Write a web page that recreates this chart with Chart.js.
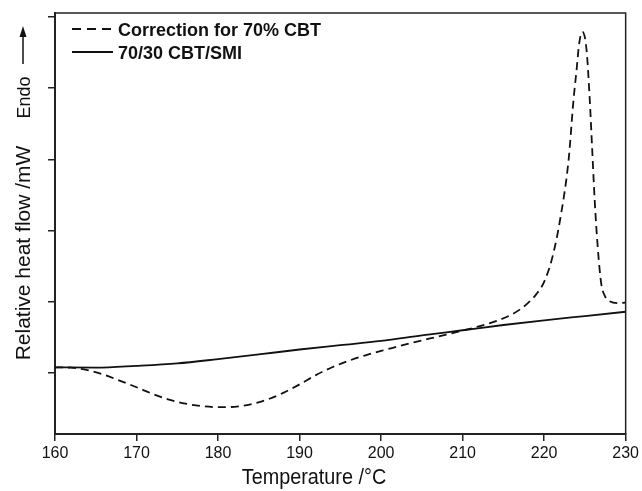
<!DOCTYPE html>
<html>
<head>
<meta charset="utf-8">
<script src="https://cdn.jsdelivr.net/npm/chart.js@4.4.1/dist/chart.umd.min.js"></script>
<style>
  html, body { margin: 0; padding: 0; background: #fff; }
  #wrap { width: 642px; height: 491px; }
</style>
</head>
<body>
<div id="wrap"><canvas id="dsc"></canvas></div>
<script>
// dados (unidades arbitrarias, 1 = um traco do eixo y)
const correcaoT = [160, 162, 164, 166, 168, 170, 172, 174, 176, 178, 180, 182, 184, 186, 188, 190, 192, 194, 196, 198,
  200, 202, 204, 206, 208, 210, 212, 214, 216, 217, 218, 219, 220, 221, 222, 223, 223.6, 224, 224.3, 224.7,
  225.2, 225.6, 225.9, 226.2, 226.6, 227, 227.5, 228, 229, 230];
const correcaoV = [0.08, 0.075, 0.04, -0.025, -0.11, -0.20, -0.295, -0.375, -0.43, -0.465, -0.48, -0.475, -0.44, -0.375, -0.28, -0.16, -0.03, 0.08, 0.17, 0.245,
  0.31, 0.37, 0.43, 0.485, 0.54, 0.595, 0.655, 0.725, 0.82, 0.89, 0.98, 1.10, 1.28, 1.62, 2.18, 2.99, 3.83, 4.28, 4.63, 4.79,
  4.54, 3.83, 3.13, 2.43, 1.73, 1.26, 1.07, 1.01, 0.98, 0.99];

const misturaT = [160, 165, 170, 175, 180, 185, 190, 195, 200, 205, 210, 215, 220, 225, 230];
const misturaV = [0.08, 0.075, 0.10, 0.135, 0.195, 0.26, 0.33, 0.39, 0.45, 0.527, 0.60, 0.674, 0.74, 0.80, 0.86];

const ticksX = [160, 170, 180, 190, 200, 210, 220, 230];
const ticksY = [0, 1, 2, 3, 4, 5];

const legendas = ['Correction for 70% CBT', '70/30 CBT/SMI'];

function juntar(xs, ys) {
  return xs.map((x, i) => ({ x: x, y: ys[i] }));
}

// moldura de cima/direita, legenda e titulos dos eixos
const extras = {
  id: 'extras',
  afterDraw(chart) {
    const ctx = chart.ctx;
    const a = chart.chartArea;
    ctx.save();
    ctx.strokeStyle = '#222';
    ctx.lineWidth = 1.5;
    ctx.beginPath();
    ctx.moveTo(a.left, a.top);
    ctx.lineTo(a.right, a.top);
    ctx.lineTo(a.right, a.bottom);
    ctx.stroke();

    // legenda
    ctx.strokeStyle = '#111';
    ctx.lineWidth = 2;
    ctx.setLineDash([9, 6]);
    ctx.beginPath();
    ctx.moveTo(72, 29);
    ctx.lineTo(113, 29);
    ctx.stroke();
    ctx.setLineDash([]);
    ctx.beginPath();
    ctx.moveTo(72, 52);
    ctx.lineTo(113, 52);
    ctx.stroke();
    ctx.fillStyle = '#111';
    ctx.font = 'bold 18px "Liberation Sans", Arial, sans-serif';
    ctx.textBaseline = 'alphabetic';
    ctx.textAlign = 'left';
    ctx.fillText(legendas[0], 118, 36);
    ctx.fillText(legendas[1], 118, 59);

    // titulo x (fonte um pouco estreita como no original)
    ctx.save();
    ctx.translate(314, 484);
    ctx.scale(0.9, 1);
    ctx.textAlign = 'center';
    ctx.font = '22px "Liberation Sans", Arial, sans-serif';
    ctx.fillText('Temperature /°C', 0, 0);
    ctx.restore();

    // titulo y
    ctx.save();
    ctx.translate(29.5, 253);
    ctx.rotate(-Math.PI / 2);
    ctx.textAlign = 'center';
    ctx.font = '21px "Liberation Sans", Arial, sans-serif';
    ctx.fillText('Relative heat flow /mW', 0, 0);
    ctx.restore();

    ctx.save();
    ctx.translate(29.5, 97.5);
    ctx.rotate(-Math.PI / 2);
    ctx.textAlign = 'center';
    ctx.font = '18px "Liberation Sans", Arial, sans-serif';
    ctx.fillText('Endo', 0, 0);
    ctx.restore();

    // seta
    ctx.lineWidth = 1.5;
    ctx.beginPath();
    ctx.moveTo(23, 64);
    ctx.lineTo(23, 34);
    ctx.stroke();
    ctx.beginPath();
    ctx.moveTo(23, 26);
    ctx.lineTo(19.5, 37);
    ctx.lineTo(26.5, 37);
    ctx.closePath();
    ctx.fill();
    ctx.restore();
  }
};

new Chart(document.getElementById('dsc'), {
  type: 'line',
  data: {
    datasets: [
      {
        label: legendas[0],
        data: juntar(correcaoT, correcaoV),
        borderColor: '#111',
        borderWidth: 1.8,
        borderDash: [8, 5],
        pointRadius: 0,
        cubicInterpolationMode: 'monotone',
        fill: false
      },
      {
        label: legendas[1],
        data: juntar(misturaT, misturaV),
        borderColor: '#111',
        borderWidth: 1.8,
        pointRadius: 0,
        cubicInterpolationMode: 'monotone',
        fill: false
      }
    ]
  },
  options: {
    responsive: true,
    maintainAspectRatio: false,
    animation: false,
    layout: { padding: { left: 0, top: 13, right: 15, bottom: 0 } },
    plugins: {
      legend: { display: false },
      tooltip: { enabled: false }
    },
    scales: {
      x: {
        type: 'linear',
        min: 160,
        max: 230,
        afterFit(scale) { scale.height = 57; },
        afterBuildTicks(scale) { scale.ticks = ticksX.map(v => ({ value: v })); },
        ticks: {
          autoSkip: false,
          maxRotation: 0,
          padding: 3,
          color: '#111',
          font: { family: '"Liberation Sans", Arial, sans-serif', size: 16 }
        },
        grid: { drawOnChartArea: false, drawTicks: true, tickLength: 7, color: '#222', lineWidth: 1.5 },
        border: { display: true, color: '#222', width: 2 }
      },
      y: {
        type: 'linear',
        min: -0.857,
        max: 5.056,
        afterFit(scale) { scale.width = 55; },
        afterBuildTicks(scale) { scale.ticks = ticksY.map(v => ({ value: v })); },
        ticks: { display: false },
        grid: { drawOnChartArea: false, drawTicks: true, tickLength: 7, color: '#222', lineWidth: 1.5 },
        border: { display: true, color: '#222', width: 2 }
      }
    }
  },
  plugins: [extras]
});
</script>
</body>
</html>
